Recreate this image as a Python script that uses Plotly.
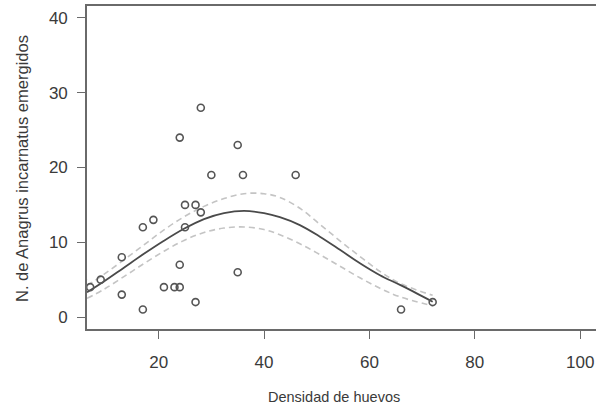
import plotly.graph_objects as go

# Observed points
dens = [28, 24, 35, 30, 36, 46, 25, 27, 28, 25, 19, 17, 13, 24, 9, 7, 13, 17, 21, 23, 24, 27, 35, 66, 72, 5.6]
emerg = [28, 24, 23, 19, 19, 19, 15, 15, 14, 12, 13, 12, 8, 7, 5, 4, 3, 1, 4, 4, 4, 2, 6, 1, 2, 5]

# Fitted curve and confidence band
fit_x = [6.4, 9.6, 13.4, 17.2, 21.0, 24.8, 28.6, 32.4, 36.2, 40.0, 43.0, 46.8, 50.6, 54.4, 58.2, 62.0, 65.8, 72.0]
fit_y = [3.3, 4.75, 6.6, 8.45, 10.2, 11.8, 13.1, 13.9, 14.2, 13.9, 13.35, 12.3, 10.75, 9.0, 7.2, 5.6, 4.3, 2.05]
upper = [4.2, 5.7, 7.65, 9.65, 11.65, 13.4, 14.8, 15.85, 16.5, 16.5, 16.0, 14.55, 12.4, 10.2, 8.1, 6.1, 4.5, 2.9]
lower = [2.5, 3.7, 5.4, 7.15, 8.8, 10.25, 11.3, 11.9, 12.05, 11.7, 11.0, 9.8, 8.35, 6.8, 5.25, 3.85, 2.7, 1.5]

x_ticks = [20, 40, 60, 80, 100]
y_ticks = [0, 10, 20, 30, 40]

FONT = "Liberation Sans, Arial, sans-serif"
TXT = "#3a3a3a"

fig = go.Figure()
for band in (upper, lower):
    fig.add_trace(go.Scatter(x=fit_x, y=band, mode="lines", line_shape="spline",
                             line=dict(color="#c4c4c4", width=1.6, dash="6px,4px"),
                             showlegend=False, hoverinfo="skip"))
fig.add_trace(go.Scatter(x=fit_x, y=fit_y, mode="lines", line_shape="spline",
                         line=dict(color="#4a4a4a", width=1.8), showlegend=False))
fig.add_trace(go.Scatter(x=dens, y=emerg, mode="markers",
                         marker=dict(symbol="circle-open", size=7, color="#555555",
                                     line=dict(width=1.6, color="#555555")),
                         showlegend=False))

W, H = 596, 412
ml, mt, mb, mr = 87, 6, 83, 0
fig.update_layout(
    width=W, height=H,
    margin=dict(l=ml, r=mr, t=mt, b=mb),
    paper_bgcolor="white", plot_bgcolor="white",
    font=dict(family=FONT, size=14, color=TXT),
    xaxis=dict(range=[6.4, 103.0], tickvals=x_ticks, ticktext=[str(v) for v in x_ticks],
               showgrid=False, zeroline=False, showline=True, mirror=True,
               linecolor="#6a6a6a", linewidth=1.6,
               ticks="outside", ticklen=8, tickwidth=1.3, tickcolor="#6a6a6a",
               ticklabelstandoff=9, tickfont=dict(size=17, color=TXT)),
    yaxis=dict(range=[-1.6, 41.6], tickvals=y_ticks, ticktext=[str(v) for v in y_ticks],
               showgrid=False, zeroline=False, showline=True, mirror=False,
               linecolor="#6a6a6a", linewidth=1.6,
               ticks="outside", ticklen=8, tickwidth=1.3, tickcolor="#6a6a6a",
               ticklabelstandoff=6, tickfont=dict(size=17, color=TXT)),
)

fig.add_annotation(text="Densidad de huevos", xref="paper", yref="paper",
                   x=(334 - ml) / (W - ml - mr), y=-(397 - (H - mb)) / (H - mt - mb),
                   xanchor="center", yanchor="middle", showarrow=False,
                   font=dict(size=14.5, color=TXT))
fig.add_annotation(text="N. de Anagrus incarnatus emergidos", xref="paper", yref="paper",
                   x=-(ml - 22) / (W - ml - mr), y=1 - (169 - mt) / (H - mt - mb),
                   xanchor="center", yanchor="middle", textangle=-90, showarrow=False,
                   font=dict(size=16.5, color=TXT))

fig.write_html("out.html", config={"displayModeBar": False},
               post_script="document.body.style.margin='0px';")
